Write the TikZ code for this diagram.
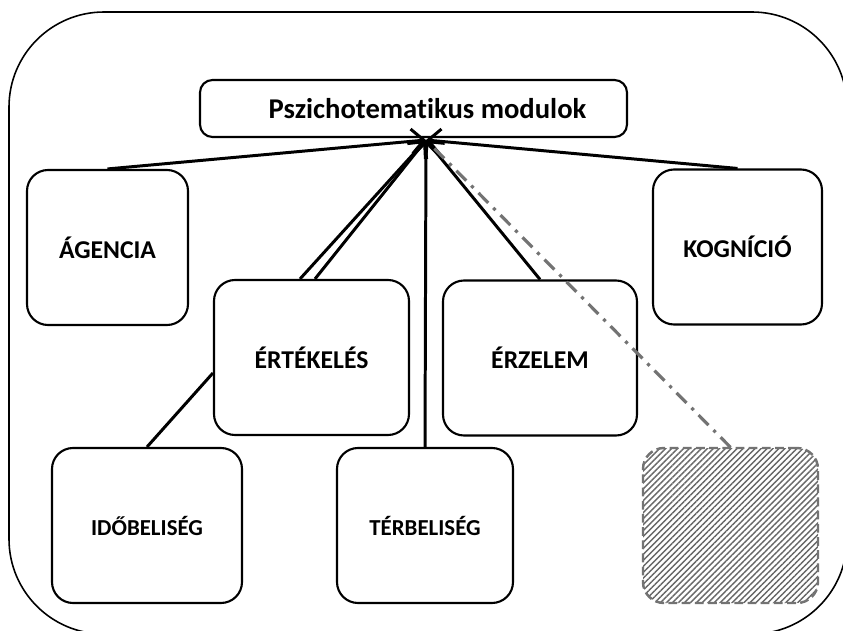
\documentclass[tikz,border=0pt]{standalone}
\usepackage{fontspec}
\setmainfont{Carlito}[Ligatures=NoCommon]
\usepackage{tikz}
\usetikzlibrary{arrows.meta, patterns.meta, positioning, calc}

\begin{document}
\begin{tikzpicture}[
    box/.style={draw, line width=1.2pt, rounded corners=0.42cm, minimum width=3.5cm, minimum height=3.1cm, align=center, font=\bfseries\fontsize{14.6}{17}\selectfont},
    smallbox/.style={box, font=\bfseries\fontsize{13}{16}\selectfont},
    arrow/.style={-{Straight Barb[length=7pt,width=14pt]}, line width=1.7pt},
    hint/.style={line width=1.8pt, black!55, dash pattern=on 8pt off 4pt on 1.8pt off 4pt}
]
    \useasboundingbox (0,0) rectangle (16.86,-12.62);
    \begin{scope}
        \clip (0,0) rectangle (16.86,-12.62);
        \draw[line width=0.9pt, rounded corners=1.9cm] (0.18,-0.24) rectangle (16.94,-12.68);
    \end{scope}

    \node[draw, line width=1.2pt, rounded corners=0.25cm, minimum width=8.54cm, minimum height=1.14cm, font=\bfseries\fontsize{16.3}{19}\selectfont] (modulok) at (8.27,-2.17) {\hspace*{0.56cm}Pszichotematikus modulok};
    \coordinate (hub) at (8.52,-2.8);

    \node[box, minimum width=3.22cm] (agencia) at (2.15,-4.95) {ÁGENCIA};
    \node[box, minimum width=3.38cm] (kognicio) at (14.75,-4.94) {KOGNÍCIÓ};
    \node[box, minimum width=3.9cm] (ertekeles) at (6.23,-7.15) {ÉRTÉKELÉS};
    \node[box, minimum width=3.88cm] (erzelem) at (10.8,-7.16) {ÉRZELEM};
    \node[smallbox, minimum width=3.8cm] (idobeliseg) at (2.94,-10.51) {IDŐBELISÉG};
    \node[smallbox, minimum width=3.52cm] (terbeliseg) at (8.5,-10.51) {TÉRBELISÉG};
    \node[draw=black!55, line width=1.4pt, dash pattern=on 5pt off 2.5pt, rounded corners=0.42cm, pattern={Lines[angle=45, distance=2.4pt, line width=0.8pt]}, pattern color=black!60, minimum width=3.5cm, minimum height=3.1cm] (ures) at (14.61,-10.51) {};

    \draw[arrow] (agencia.north) -- (hub);
    \draw[arrow] (kognicio.north) -- (hub);
    \draw[arrow] ([xshift=-0.23cm]ertekeles.north) -- (hub);
    \draw[arrow] ([xshift=0.07cm]ertekeles.north) -- (hub);
    \draw[arrow] (terbeliseg.north) -- (hub);
    \draw[arrow] (erzelem.north) -- (hub);
    \draw[hint, shorten >=0.15cm] (ures.north) -- (hub);
    \draw[line width=1.7pt] (idobeliseg.north) -- ([yshift=-0.31cm]ertekeles.west);
\end{tikzpicture}
\end{document}
